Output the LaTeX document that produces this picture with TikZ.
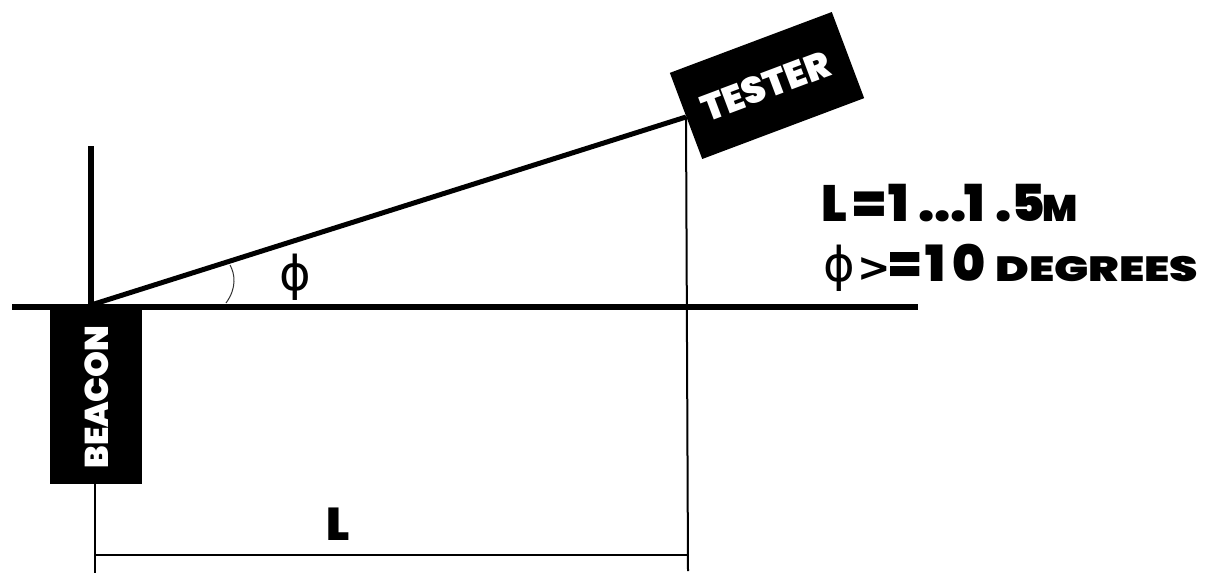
\documentclass[tikz,border=0pt]{standalone}
\usepackage{fontspec}
\setmainfont{Poppins}[BoldFont=Poppins Black]
\newfontfamily\phifont{DejaVu Sans}
\newcommand{\seg}[2]{\makebox[#1pt][l]{#2}}
\newcommand{\fs}[1]{\fontsize{#1}{#1}\selectfont}
\tikzset{
  thick line/.style={line width=6.5pt,black},
  thin line/.style={line width=2pt,black},
  blackbox/.style={fill=black,draw=none,inner sep=0pt,text=white},
  lbl/.style={inner sep=0pt,text=black},
}
\begin{document}
\begin{tikzpicture}[x=1pt,y=-1pt]
\useasboundingbox (0,0) rectangle (1213,573);
\coordinate (gl) at (12,307);
\coordinate (gr) at (918,307);
\coordinate (apex) at (91,305);
\coordinate (top) at (91,146);
\coordinate (tl) at (686,117);
\coordinate (tb) at (688,571);
\coordinate (bb) at (95,573);
\coordinate (d1) at (95,555);
\coordinate (d2) at (688,555);
\coordinate (a1) at (226,303);
\node[blackbox,minimum width=92.5pt,minimum height=174pt] (beacon) at (95.8,397) {\hspace*{2pt}\rotatebox{90}{\fs{33}\bfseries BEACON}};
\node[blackbox,minimum width=173pt,minimum height=92pt,rotate=20.6] (tester) at (767,85.5) {\raisebox{-2pt}{\fs{37}\bfseries TESTER}\hspace*{3pt}};
\draw[thin line] (tl) -- (tb);
\draw[thin line] (95,484) -- (bb);
\draw[thin line] (d1) -- (d2);
\draw[line width=1pt,black!80] (a1) .. controls (237,288) and (235,274) .. (230,265);
\draw[thick line] (top) -- (91,307);
\draw[thick line] (gl) -- (gr);
\draw[line width=5pt] (apex) -- (tl);
\node[inner sep=0pt,font=\phifont\fs{48}] (phi) at (295,277) {ϕ};
\node[lbl,font=\fs{46}\bfseries] (ll) at (338,524) {L};
\node[lbl,anchor=base west,font=\fs{51}\bfseries] (t1) at (821,221) {\seg{32}{L}\seg{35}{=}\seg{30}{1}\seg{46}{...}\seg{31}{1}\seg{16}{.}\seg{31}{5}{\fs{37}M}};
\node[lbl,anchor=base west] (t2) at (823,281) {\seg{34}{\phifont\fs{48}ϕ}\seg{32}{\phifont\fs{40}\bfseries >}\seg{36}{\fs{50}\bfseries=}\seg{27}{\fs{50}\bfseries 1}\seg{43}{\fs{50}\bfseries 0}\scalebox{1.3}[1]{\fs{35}\bfseries DEGREES}};
\end{tikzpicture}
\end{document}
